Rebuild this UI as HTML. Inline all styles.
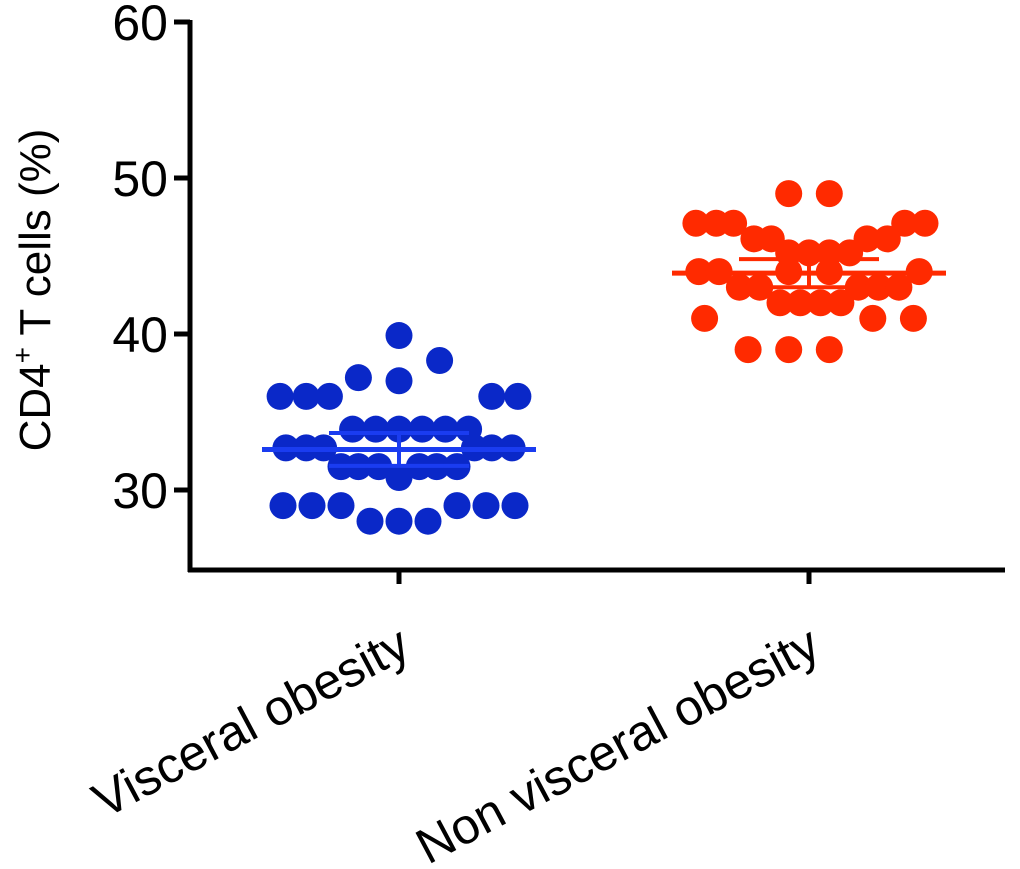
<!DOCTYPE html>
<html><head><meta charset="utf-8"><style>
html,body{margin:0;padding:0;background:#fff;}
svg{display:block;font-family:"Liberation Sans",Arial,sans-serif;}
</style></head><body>
<svg id="chart" width="1020" height="869" viewBox="0 0 1020 869">
<g id="axes"></g>
<g id="marks"></g>
<text transform="translate(50,290) rotate(-90)" text-anchor="middle" font-size="44" fill="#000">CD4<tspan font-size="28" dy="-18">+</tspan><tspan dy="18"> T cells  (%)</tspan></text>
</svg>
<script>
const categories = ["Visceral obesity", "Non visceral obesity"];
const yTicks = [30, 40, 50, 60];
const blueValues = [39.9,38.3,37.2,37.0,36,36,36,36,36,33.9,33.9,33.9,33.9,33.9,33.9,32.7,32.7,32.7,32.7,32.7,32.7,31.5,31.5,31.5,31.5,31.5,31.5,30.8,29,29,29,29,29,29,28,28,28];
const blueJitter = [0,1.4,-1.4,0,-4.1,-3.2,-2.4,3.2,4.1,-1.6,-0.8,0,0.8,1.6,2.4,-3.9,-3.2,-2.6,2.6,3.2,3.9,-2,-1.4,-0.7,0.7,1.3,2,0,-4,-3,-2,2,3,4,-1,0,1];
const redValues = [49,49,47.1,47.1,47.1,47.1,47.1,46.1,46.1,46.1,46.1,45.2,45.2,45.2,45.2,44,44,44,44,44,43,43,43,43,43,42,42,42,42,41,41,41,39,39,39];
const redJitter = [-0.7,0.7,-3.9,-3.2,-2.6,3.3,4,-1.9,-1.3,2,2.7,-0.7,0,0.7,1.4,-3.8,-3.1,-0.7,0.7,3.8,-2.4,-1.7,1.7,2.4,3.1,-1,-0.3,0.4,1.1,-3.6,2.2,3.6,-2.1,-0.7,0.7];
const means = [32.6, 43.9];
const errs = [1.05, 0.9];
const colors = ["#0a28c8", "#ff2a00"];
const lineColors = ["#1a3cf0", "#ff2a00"];

const NS = "http://www.w3.org/2000/svg";
const X0 = 190, Y0 = 570, YTOP = 22;
function yScale(v){ return 490 - (v - 30) * 15.6; }
function xScale(i){ return 399 + i * 410; }
const JIT = 29;
function mk(tag, attrs, parent){
  const e = document.createElementNS(NS, tag);
  for (const k in attrs) e.setAttribute(k, attrs[k]);
  parent.appendChild(e); return e;
}
const axes = document.getElementById("axes");
const marks = document.getElementById("marks");

let e = mk("line", {x1:X0, y1:YTOP-2, x2:X0, y2:Y0+2, stroke:"#000", "stroke-width":5}, axes);


e = mk("line", {x1:X0-2, y1:Y0, x2:1005, y2:Y0, stroke:"#000", "stroke-width":5}, axes);



yTicks.forEach(t => {
  const y = yScale(t);
  const l = mk("line", {x1:X0-16, y1:y, x2:X0, y2:y, stroke:"#000", "stroke-width":5}, axes);
  
  
  const tx = mk("text", {x:X0-22, y:y+18, "text-anchor":"end", "font-size":50, fill:"#000"}, axes);
  tx.textContent = t;
  
  
});

categories.forEach((c, i) => {
  const x = xScale(i);
  const l = mk("line", {x1:x, y1:Y0, x2:x, y2:Y0+14, stroke:"#000", "stroke-width":5}, axes);
  
  
  const tx = mk("text", {transform:`translate(${x+14},655) rotate(-28)`, "text-anchor":"end", "font-size":50, fill:"#000"}, axes);
  tx.textContent = c;
  
  
});

function drawGroup(vals, jit, gi){
  const cx = xScale(gi);
  vals.forEach((v, k) => {
    const d = mk("circle", {cx: cx + jit[k] * JIT, cy: yScale(v), r: 13.5, fill: colors[gi]}, marks);
    
    
  });
  const m = yScale(means[gi]), top = yScale(means[gi] + errs[gi]), bot = yScale(means[gi] - errs[gi]);
  const col = lineColors[gi];
  let a = mk("line", {x1:cx-137, y1:m, x2:cx+137, y2:m, stroke:col, "stroke-width":5}, marks);
  
  
  a = mk("line", {x1:cx, y1:top, x2:cx, y2:bot, stroke:col, "stroke-width":4}, marks);
  
  
  a = mk("line", {x1:cx-70, y1:top, x2:cx+70, y2:top, stroke:col, "stroke-width":4}, marks);
  
  
  a = mk("line", {x1:cx-70, y1:bot, x2:cx+70, y2:bot, stroke:col, "stroke-width":4}, marks);
  
  
}
drawGroup(blueValues, blueJitter, 0);
drawGroup(redValues, redJitter, 1);
</script>
</body></html>
